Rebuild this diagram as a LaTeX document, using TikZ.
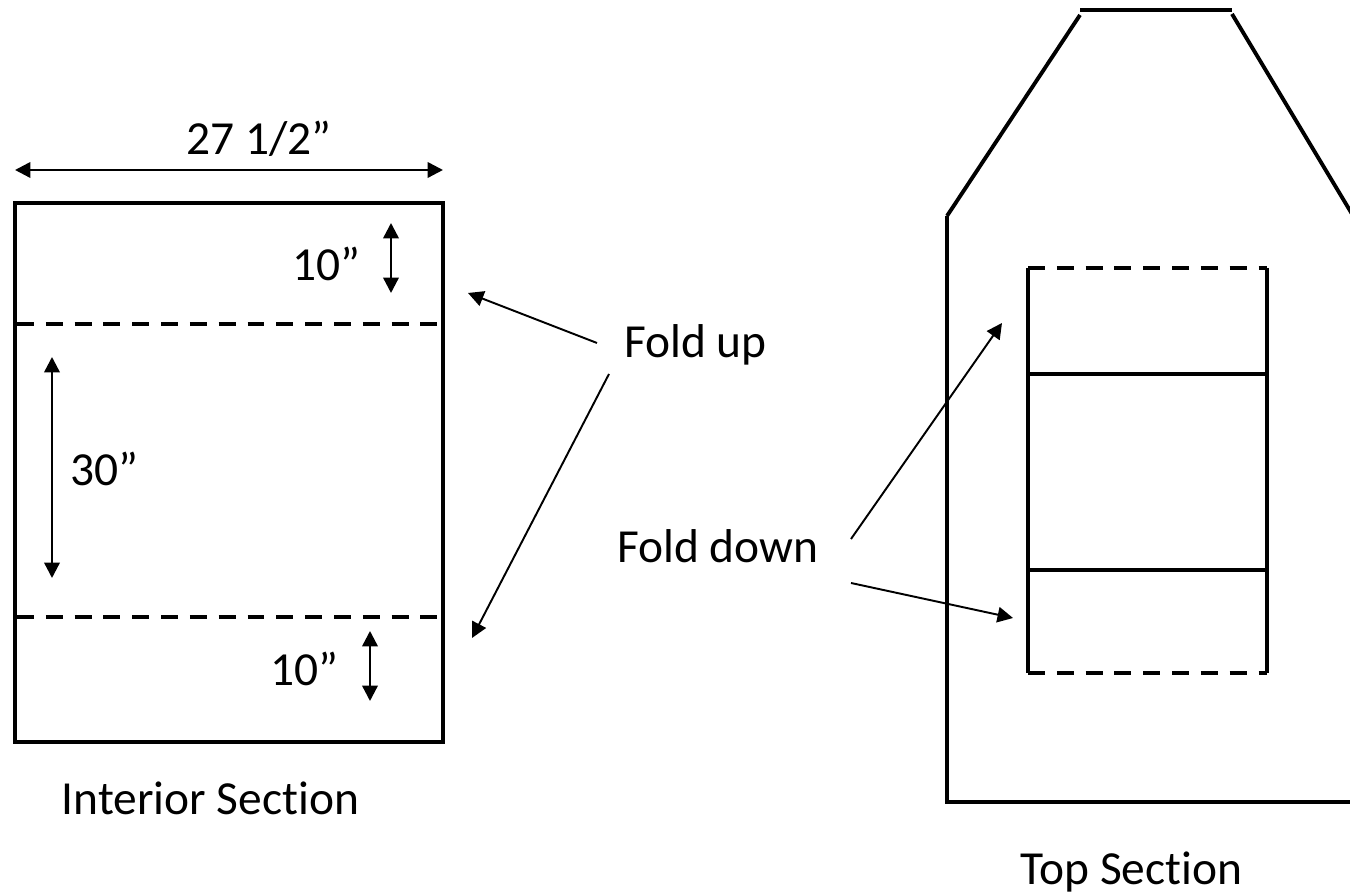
\documentclass[tikz,border=0pt]{standalone}
\usepackage{fontspec}
\setmainfont[Ligatures=NoCommon]{Carlito}
\usetikzlibrary{arrows.meta}
\tikzset{
  lbl/.style={inner sep=0pt, anchor=base, font=\fontsize{13.5}{16}\selectfont},
  heavy/.style={line width=1.1pt},
  foldline/.style={line width=1.1pt, dash pattern=on 4.8pt off 3.4pt},
  dim/.style={line width=.7pt, {Triangle[length=4.4pt,width=4.4pt]}-{Triangle[length=4.4pt,width=4.4pt]}},
  pointer/.style={line width=.55pt, -{Triangle[length=4.4pt,width=4.4pt]}}
}
\begin{document}
\begin{tikzpicture}
        \useasboundingbox (0, 0) rectangle (13.5, 8.95);
        % interior section
        \draw[heavy] (.15, 6.92) rectangle (4.43, 1.53);
        \draw[foldline] (.17, 5.71) -- (4.41, 5.71);
        \draw[foldline] (.17, 2.78) -- (4.41, 2.78);
        % top section
        \draw[heavy] (13.55, 0.93) -- (9.47, 0.93) -- (9.47, 6.79);
        \draw[heavy] (9.47, 6.79) -- (10.8, 8.8);
        \draw[heavy] (10.8, 8.85) -- (12.32, 8.85);
        \draw[heavy] (12.32, 8.81) -- (13.52, 6.81);
        \draw[foldline] (10.28, 6.27) -- (12.67, 6.27);
        \draw[foldline] (10.28, 2.22) -- (12.67, 2.22);
        \draw[heavy] (10.28, 6.27) -- (10.28, 2.22);
        \draw[heavy] (12.67, 6.27) -- (12.67, 2.22);
        \draw[heavy] (10.28, 5.21) -- (12.67, 5.21);
        \draw[heavy] (10.28, 3.25) -- (12.67, 3.25);
        % labels
        \node[lbl] (width) at (2.59, 7.40) {27 1/2”};
        \node[lbl] (topten) at (3.26, 6.14) {10”};
        \node[lbl] (thirty) at (1.045, 4.09) {30”};
        \node[lbl] (lowten) at (3.045, 2.09) {10”};
        \node[lbl] (foldup) at (6.955, 5.37) {Fold up};
        \node[lbl] (folddown) at (7.18, 3.32) {Fold down};
        \node[lbl] (interior) at (2.105, .80) {Interior Section};
        \node[lbl] (topsec) at (11.315, .10) {Top Section};
        % dimensions
        \draw[dim] (.15, 7.25) -- (4.43, 7.25);
        \draw[dim] (3.91, 6.72) -- (3.91, 6.02);
        \draw[dim] (.52, 5.38) -- (.52, 3.17);
        \draw[dim] (3.7, 2.64) -- (3.7, 1.94);
        % pointers
        \coordinate (upA) at (4.68, 6.02);
        \coordinate (upB) at (4.72, 2.57);
        \coordinate (downA) at (10.02, 5.72);
        \coordinate (downB) at (10.13, 2.77);
        \draw[pointer] (5.97, 5.52) -- (upA);
        \draw[pointer] (6.09, 5.21) -- (upB);
        \draw[pointer] (8.51, 3.56) -- (downA);
        \draw[pointer] (8.51, 3.12) -- (downB);
\end{tikzpicture}
\end{document}
